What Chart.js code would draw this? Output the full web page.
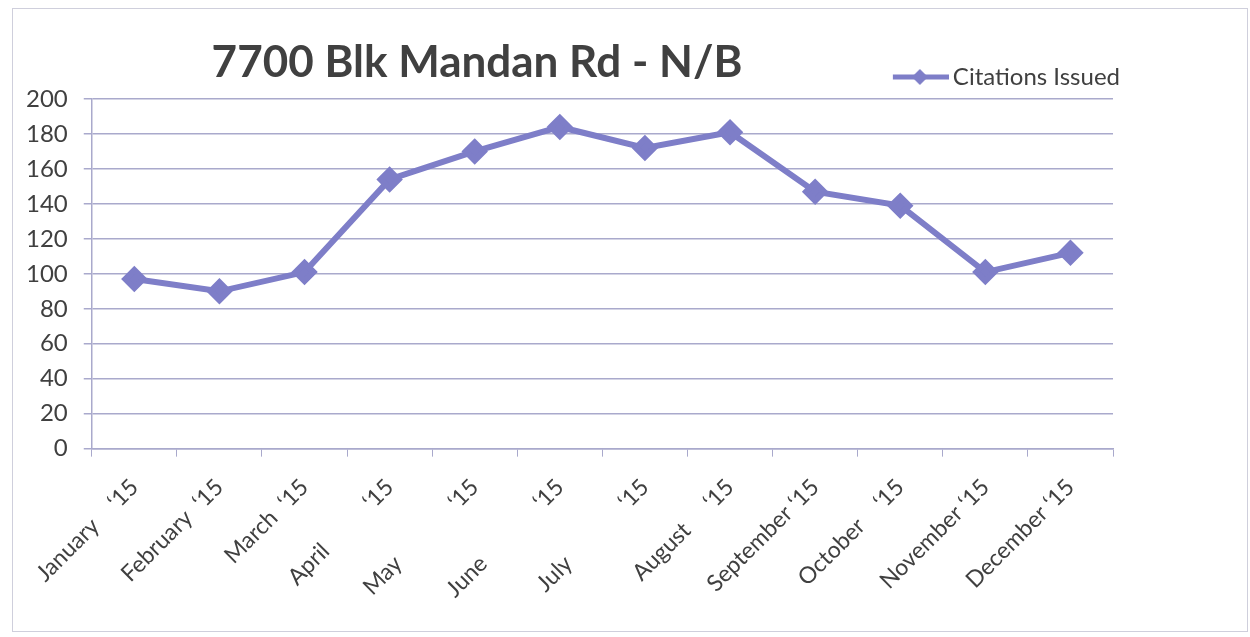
<!DOCTYPE html>
<html>
<head>
<meta charset="utf-8">
<script src="https://cdn.jsdelivr.net/npm/chart.js@4.4.1/dist/chart.umd.min.js"></script>
<style>
  html, body { margin: 0; padding: 0; background: #fff; }
  #wrap { position: relative; width: 1250px; height: 637px; overflow: hidden; }
  #frame { position: absolute; left: 12px; top: 8px; width: 1234px; height: 622px; border: 1px solid #cfcfdc; pointer-events: none; }
</style>
</head>
<body>
<div id="wrap">
  <canvas id="chart" width="1250" height="637"></canvas>
  <div id="frame"></div>
</div>
<script>
// data
const months = [
  "January    \u201815",
  "February  \u201815",
  "March  \u201815",
  "April          \u201815",
  "May             \u201815",
  "June             \u201815",
  "July             \u201815",
  "August     \u201815",
  "September \u201815",
  "October    \u201815",
  "November \u201815",
  "December \u201815"
];
const citations = [97, 90, 101, 154, 170, 184, 172, 181, 147, 139, 101, 112];
const yTicks = [0, 20, 40, 60, 80, 100, 120, 140, 160, 180, 200];
const chartTitle = "7700 Blk Mandan Rd - N/B";
const seriesName = "Citations Issued";

const lineColor = "#7e7ec8";
const gridColor = "#a9a9cc";
const textColor = "#404040";

// legend marker: short line with a diamond, like the spreadsheet one
// (left part of the image is blank so the mark sits close to the text)
function legendMark() {
  const c = document.createElement("canvas");
  c.width = 72; c.height = 20;
  const g = c.getContext("2d");
  g.strokeStyle = lineColor;
  g.lineWidth = 5;
  g.beginPath(); g.moveTo(16, 10); g.lineTo(72, 10); g.stroke();
  g.fillStyle = lineColor;
  g.beginPath();
  g.moveTo(43, 2); g.lineTo(51, 10); g.lineTo(43, 18); g.lineTo(35, 10);
  g.closePath(); g.fill();
  return c;
}
const mark = legendMark();

const titlePlugin = {
  id: "sheetTitle",
  afterDraw(chart) {
    const ctx = chart.ctx;
    ctx.save();
    ctx.font = "bold 44px Lato";
    ctx.fillStyle = textColor;
    ctx.textAlign = "center";
    ctx.textBaseline = "middle";
    ctx.fillText(chartTitle, 477, 63);
    ctx.restore();
  }
};

new Chart(document.getElementById("chart"), {
  type: "line",
  data: {
    labels: months,
    datasets: [{
      label: seriesName,
      data: citations,
      borderColor: lineColor,
      backgroundColor: lineColor,
      borderWidth: 6,
      pointStyle: "rectRot",
      pointRadius: 9,
      pointHoverRadius: 9,
      tension: 0
    }]
  },
  options: {
    responsive: false,
    animation: false,
    devicePixelRatio: 1,
    layout: { padding: { top: 57, right: 122, left: 10, bottom: 17 } },
    plugins: {
      tooltip: { enabled: false },
      legend: {
        position: "top",
        align: "end",
        labels: {
          usePointStyle: true,
          pointStyleWidth: 56,
          padding: 8,
          color: textColor,
          font: { family: "Lato", size: 24 },
          generateLabels(chart) {
            const items = Chart.defaults.plugins.legend.labels.generateLabels(chart);
            items.forEach(i => { i.pointStyle = mark; });
            return items;
          }
        }
      }
    },
    scales: {
      x: {
        offset: true,
        afterFit: s => { s.paddingRight = 137; },
        grid: { offset: true, drawOnChartArea: false, drawTicks: true, tickLength: 8, color: gridColor },
        border: { color: gridColor, width: 1.5 },
        ticks: {
          color: textColor,
          font: { family: "Lato", size: 23 },
          minRotation: 45,
          maxRotation: 45,
          padding: 17,
          autoSkip: false
        }
      },
      y: {
        min: 0,
        max: 200,
        afterBuildTicks: s => { s.ticks = yTicks.map(v => ({ value: v })); },
        grid: { color: gridColor, lineWidth: 1.5, tickLength: 8 },
        border: { color: gridColor, width: 1.5 },
        ticks: {
          color: textColor,
          font: { family: "Lato", size: 24 },
          padding: 16
        }
      }
    }
  },
  plugins: [titlePlugin]
});
</script>
</body>
</html>
